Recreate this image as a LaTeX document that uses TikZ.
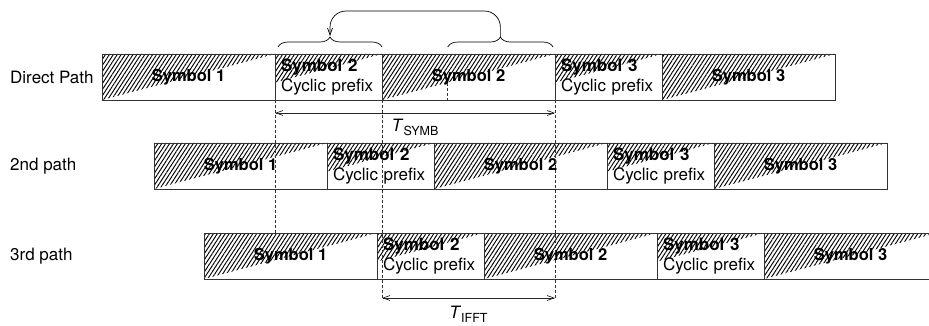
\documentclass[tikz,border=0pt]{standalone}
\usepackage{fontspec}
\setmainfont{TeX Gyre Heros}
\usetikzlibrary{positioning,calc,arrows.meta,
                patterns.meta,decorations.pathreplacing}

\newcommand{\Tsub}[1]{\textit{T}\raisebox{-0.45ex}{\fontsize{12.5}{12.5}\selectfont #1}}

\begin{document}
\begin{tikzpicture}[x=1pt,y=-1pt,
                    >={Straight Barb[length=7pt,width=5pt,line width=0.7pt]}]
  \tikzset{HatchStyle/.style  = {pattern      = {Lines[angle=57,distance=3.3pt,line width=0.95pt]},
                                 pattern color = black},
           BoxStyle/.style    = {shape        = rectangle,
                                 draw         = black!80,
                                 line width   = 0.9pt,
                                 inner sep    = 0pt,
                                 outer sep    = 0pt,
                                 minimum height = 46pt,
                                 anchor       = north west},
           SymbStyle/.style   = {BoxStyle, minimum width=173pt,
                                 font=\fontsize{16.5}{20}\selectfont\bfseries,
                                 path picture={\fill[HatchStyle] (path picture bounding box.south west)
                                   -- (path picture bounding box.north east)
                                   -- (path picture bounding box.north west) -- cycle;}},
           PrefixStyle/.style = {BoxStyle, minimum width=107pt, text width=95pt,
                                 inner xsep=6pt, align=left,
                                 font=\fontsize{17}{20}\selectfont,
                                 path picture={\fill[HatchStyle] (path picture bounding box.north west)
                                   -- (path picture bounding box.north east)
                                   -- ($(path picture bounding box.north west)!0.62!(path picture bounding box.south west)$) -- cycle;}},
           RowLabel/.style    = {anchor=west, inner sep=0pt, font=\fontsize{17}{20}\selectfont},
           DimLine/.style     = {<->, line width=0.7pt, black!85},
           GuideLine/.style   = {dash pattern=on 3pt off 2pt, line width=0.7pt, black!80}}
  \useasboundingbox (0,0) rectangle (929,326);
  \clip (0,0) rectangle (929,326);
  \tikzset{node distance = 0pt}
  %%% DIRECT PATH %%%
  \node[SymbStyle] (s1a) at (102,54) {Symbol 1};
  \node[PrefixStyle, right=of s1a] (cp2a) {\textbf{Symbol 2}\\Cyclic prefix};
  \node[SymbStyle, right=of cp2a] (s2a) {Symbol 2};
  \node[PrefixStyle, right=of s2a] (cp3a) {\textbf{Symbol 3}\\Cyclic prefix};
  \node[SymbStyle, right=of cp3a] (s3a) {Symbol 3};
  \node[RowLabel] (lab1) at (s1a.west -| 10,0) {Direct Path};
  %%% 2ND PATH %%%
  \node[SymbStyle] (s1b) at (154,143) {Symbol 1};
  \node[PrefixStyle, right=of s1b] (cp2b) {\textbf{Symbol 2}\\Cyclic prefix};
  \node[SymbStyle, right=of cp2b] (s2b) {Symbol 2};
  \node[PrefixStyle, right=of s2b] (cp3b) {\textbf{Symbol 3}\\Cyclic prefix};
  \node[SymbStyle, right=of cp3b] (s3b) {Symbol 3};
  \node[RowLabel] (lab2) at (s1b.west -| 10,0) {2nd path};
  %%% 3RD PATH %%%
  \node[SymbStyle] (s1c) at (204,233) {Symbol 1};
  \node[PrefixStyle, right=of s1c] (cp2c) {\textbf{Symbol 2}\\Cyclic prefix};
  \node[SymbStyle, right=of cp2c] (s2c) {Symbol 2};
  \node[PrefixStyle, right=of s2c] (cp3c) {\textbf{Symbol 3}\\Cyclic prefix};
  \node[SymbStyle, right=of cp3c] (s3c) {Symbol 3};
  \node[RowLabel] (lab3) at (s1c.west -| 10,0) {3rd path};
  %%% BRACES %%%
  \coordinate (bl1) at ($(cp2a.north west)+(3,-7)$);
  \coordinate (br1) at ($(cp2a.north east)+(0,-7)$);
  \coordinate (bl2) at ($(s2a.north west)!0.38!(s2a.north east)+(0,-7)$);
  \coordinate (br2) at ($(s2a.north east)+(-2,-7)$);
  \draw[decorate, decoration={brace, amplitude=10pt}, line width=0.7pt] (bl1) -- (br1);
  \draw[decorate, decoration={brace, amplitude=10pt}, line width=0.7pt] (bl2) -- (br2);
  \coordinate (tip1) at ($(bl1)!0.5!(br1)+(0,-11)$);
  \coordinate (tip2) at ($(bl2)!0.5!(br2)+(0,-10)$);
  \draw[->, rounded corners=16pt, line width=0.7pt] (tip2) -- ++(0,-26) -| (tip1);
  %%% GUIDES AND TIMES %%%
  \draw[GuideLine] ($(s2a.south west)!0.38!(s2a.north east)$) -- ($(s2a.south west)!0.38!(s2a.south east)$);
  \draw[GuideLine] (cp2a.south west) -- (cp2a.south west |- s1c.north);
  \coordinate (ti1) at ($(s2a.south west |- s1c.south)+(0,19)$);
  \coordinate (ti2) at ($(s2a.south east |- s1c.south)+(0,19)$);
  \draw[GuideLine] (s2a.south west) -- (ti1);
  \draw[GuideLine] (s2a.south east) -- (ti2);
  \coordinate (ts1) at ($(cp2a.south west)+(0,13)$);
  \coordinate (ts2) at ($(s2a.south east)+(0,13)$);
  \draw[DimLine] (ts1) -- (ts2);
  \node[font=\fontsize{17}{20}\selectfont, inner sep=0pt] (tsymb) at ($(ts1)+(140,14)$) {\Tsub{SYMB}};
  \draw[DimLine] (ti1) -- (ti2);
  \node[font=\fontsize{17}{20}\selectfont, inner sep=0pt] (tifft) at ($(ti1)!0.5!(ti2)+(0,16)$) {\Tsub{IFFT}};
\end{tikzpicture}
\end{document}
